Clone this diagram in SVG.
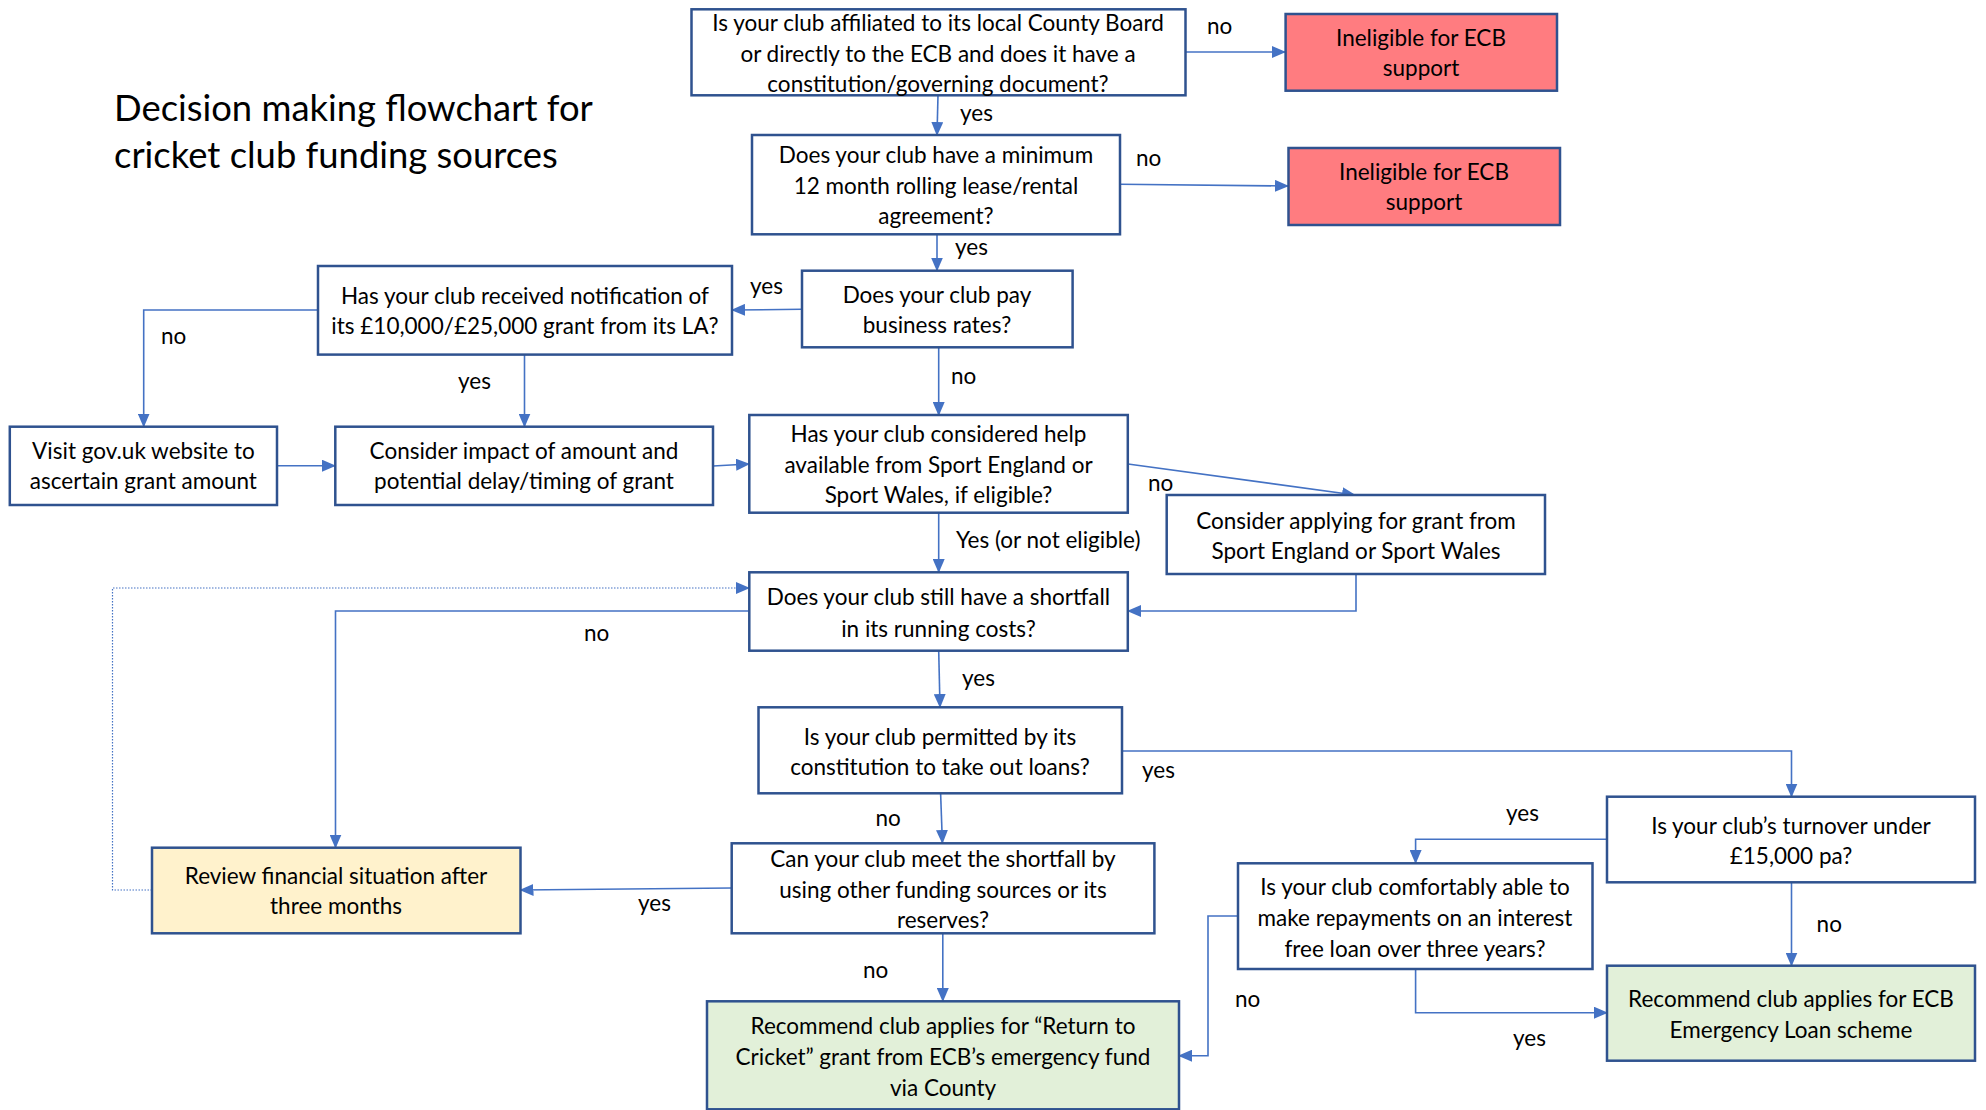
<svg xmlns="http://www.w3.org/2000/svg" width="1986" height="1110" viewBox="0 0 1986 1110">
<style>
text{font-family:Lato,"Liberation Sans",sans-serif;font-size:22.5px;fill:#000}
.t{text-anchor:middle}
.title{font-size:36.4px}
.box{fill:#fff;stroke:#2F528F;stroke-width:2.5}
.red{fill:#FF7C80}
.yel{fill:#FFF2CC}
.grn{fill:#E2F0D9}
.c{fill:none;stroke:#4472C4;stroke-width:1.6}
.a{marker-end:url(#ah)}
.dot{stroke-width:1.2;stroke-dasharray:1.5 1.5}
</style>
<defs>
<marker id="ah" markerUnits="userSpaceOnUse" markerWidth="14" markerHeight="12" viewBox="0 0 14 12" refX="13" refY="6" orient="auto">
<path d="M0,0 L14,6 L0,12 Z" fill="#4472C4"/>
</marker>
</defs>
<rect width="1986" height="1110" fill="#fff"/>
<g id="title">
<text class="title" x="114" y="121">Decision making flowchart for</text>
<text class="title" x="114" y="168">cricket club funding sources</text>
</g>
<g id="connectors">
<path class="c a" d="M1185,52 L1285,52"/>
<path class="c a" d="M938,95 L937,135"/>
<path class="c a" d="M1120,184.3 L1288,186"/>
<path class="c a" d="M937,234 L937,270.5"/>
<path class="c a" d="M802,309.3 L732,310"/>
<path class="c a" d="M318,310 L143.7,310 L143.7,426.5"/>
<path class="c a" d="M524.5,354.6 L524.5,426.5"/>
<path class="c a" d="M277,465.7 L335,465.7"/>
<path class="c a" d="M713,466 L749,464"/>
<path class="c a" d="M938.7,347 L938.7,415"/>
<path class="c a" d="M1128,464 L1355,495"/>
<path class="c a" d="M1356,574 L1356,611 L1128,611"/>
<path class="c a" d="M938.7,512.7 L938.7,572"/>
<path class="c a" d="M749,611 L335.5,611 L335.5,847.5"/>
<path class="c a dot" d="M152,890 L112.5,890 L112.5,588 L749,588"/>
<path class="c a" d="M938.7,650.7 L940,707"/>
<path class="c a" d="M1122,751 L1791.5,751 L1791.5,796.5"/>
<path class="c a" d="M940.6,793 L942.4,843"/>
<path class="c a" d="M731.7,888 L520.5,890"/>
<path class="c a" d="M942.8,933 L942.8,1001"/>
<path class="c a" d="M1607,839.3 L1415.6,839.3 L1415.6,863"/>
<path class="c a" d="M1791.5,882 L1791.5,965.5"/>
<path class="c a" d="M1415.6,969 L1415.6,1012.7 L1607,1012.7"/>
<path class="c a" d="M1238,916 L1208,916 L1208,1055.7 L1179,1055.7"/>
</g>
<g id="labels">
<text x="1207" y="34">no</text>
<text x="960" y="121">yes</text>
<text x="1136" y="166">no</text>
<text x="955" y="255">yes</text>
<text x="750" y="293.7">yes</text>
<text x="161" y="344">no</text>
<text x="458" y="389">yes</text>
<text x="951" y="384">no</text>
<text x="1148" y="491">no</text>
<text x="956" y="547.7">Yes (or not eligible)</text>
<text x="584" y="641">no</text>
<text x="962" y="686">yes</text>
<text x="1142" y="778">yes</text>
<text x="875.5" y="826">no</text>
<text x="638" y="911">yes</text>
<text x="863" y="977.7">no</text>
<text x="1506" y="821">yes</text>
<text x="1235" y="1007">no</text>
<text x="1816.6" y="931.7">no</text>
<text x="1513" y="1046">yes</text>
</g>
<g id="n-affiliated">
<rect class="box" x="691.5" y="9.3" width="494" height="86"/>
<text class="t" x="938" y="31">Is your club affiliated to its local County Board</text>
<text class="t" x="938" y="62">or directly to the ECB and does it have a</text>
<text class="t" x="938" y="92">constitution/governing document?</text>
</g>
<g id="n-inel1">
<rect class="box red" x="1285.6" y="14" width="271.4" height="76.7"/>
<text class="t" x="1421" y="46">Ineligible for ECB</text>
<text class="t" x="1421" y="76">support</text>
</g>
<g id="n-lease">
<rect class="box" x="752" y="135" width="368" height="99.3"/>
<text class="t" x="936" y="162.7">Does your club have a minimum</text>
<text class="t" x="936" y="193.7">12 month rolling lease/rental</text>
<text class="t" x="936" y="223.7">agreement?</text>
</g>
<g id="n-inel2">
<rect class="box red" x="1288.5" y="148" width="271.5" height="77"/>
<text class="t" x="1424" y="180.3">Ineligible for ECB</text>
<text class="t" x="1424" y="210.3">support</text>
</g>
<g id="n-rates">
<rect class="box" x="802" y="270.7" width="270.6" height="76.6"/>
<text class="t" x="937" y="302.7">Does your club pay</text>
<text class="t" x="937" y="332.7">business rates?</text>
</g>
<g id="n-la">
<rect class="box" x="318" y="266" width="414" height="88.6"/>
<text class="t" x="525" y="304.3">Has your club received notification of</text>
<text class="t" x="525" y="334.3">its £10,000/£25,000 grant from its LA?</text>
</g>
<g id="n-govuk">
<rect class="box" x="9.8" y="426.7" width="267.2" height="78.3"/>
<text class="t" x="143.4" y="459.3">Visit gov.uk website to</text>
<text class="t" x="143.4" y="489.3">ascertain grant amount</text>
</g>
<g id="n-impact">
<rect class="box" x="335.3" y="426.7" width="377.7" height="78.3"/>
<text class="t" x="524" y="459.3">Consider impact of amount and</text>
<text class="t" x="524" y="489.3">potential delay/timing of grant</text>
</g>
<g id="n-sport">
<rect class="box" x="749.3" y="415" width="378.5" height="97.7"/>
<text class="t" x="938.5" y="442">Has your club considered help</text>
<text class="t" x="938.5" y="472.7">available from Sport England or</text>
<text class="t" x="938.5" y="503.3">Sport Wales, if eligible?</text>
</g>
<g id="n-apply">
<rect class="box" x="1166.7" y="495" width="378.3" height="79"/>
<text class="t" x="1356" y="528.7">Consider applying for grant from</text>
<text class="t" x="1356" y="559.3">Sport England or Sport Wales</text>
</g>
<g id="n-shortfall">
<rect class="box" x="749.3" y="572.3" width="378.5" height="78.4"/>
<text class="t" x="938.5" y="605.3">Does your club still have a shortfall</text>
<text class="t" x="938.5" y="636.7">in its running costs?</text>
</g>
<g id="n-loans">
<rect class="box" x="758.5" y="707.3" width="363.5" height="86"/>
<text class="t" x="940" y="745">Is your club permitted by its</text>
<text class="t" x="940" y="775.3">constitution to take out loans?</text>
</g>
<g id="n-other">
<rect class="box" x="731.7" y="843.3" width="422.7" height="90"/>
<text class="t" x="943" y="867">Can your club meet the shortfall by</text>
<text class="t" x="943" y="897.7">using other funding sources or its</text>
<text class="t" x="943" y="928.3">reserves?</text>
</g>
<g id="n-review">
<rect class="box yel" x="152" y="847.7" width="368.5" height="85.6"/>
<text class="t" x="336" y="883.7">Review financial situation after</text>
<text class="t" x="336" y="914.3">three months</text>
</g>
<g id="n-return">
<rect class="box grn" x="707" y="1001.3" width="472" height="108"/>
<text class="t" x="943" y="1034.3">Recommend club applies for “Return to</text>
<text class="t" x="943" y="1065">Cricket” grant from ECB’s emergency fund</text>
<text class="t" x="943" y="1096">via County</text>
</g>
<g id="n-turnover">
<rect class="box" x="1607" y="796.7" width="368" height="85.6"/>
<text class="t" x="1791" y="833.7">Is your club’s turnover under</text>
<text class="t" x="1791" y="864.3">£15,000 pa?</text>
</g>
<g id="n-comfortable">
<rect class="box" x="1238" y="863.3" width="354.5" height="105.7"/>
<text class="t" x="1415" y="895">Is your club comfortably able to</text>
<text class="t" x="1415" y="926">make repayments on an interest</text>
<text class="t" x="1415" y="956.7">free loan over three years?</text>
</g>
<g id="n-emergency">
<rect class="box grn" x="1607" y="965.7" width="368" height="95"/>
<text class="t" x="1791" y="1007">Recommend club applies for ECB</text>
<text class="t" x="1791" y="1037.7">Emergency Loan scheme</text>
</g>
</svg>
